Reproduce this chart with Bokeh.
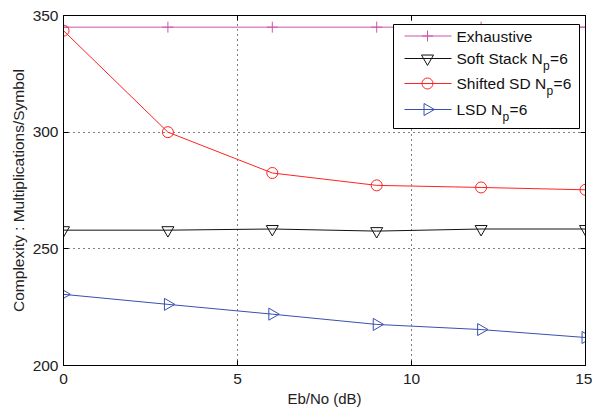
from bokeh.plotting import figure
from bokeh.models import LinearAxis, Range1d, FixedTicker
from bokeh.core.properties import value
from bokeh.embed import file_html
from bokeh.resources import INLINE
import math

snr = [0, 3, 6, 9, 12, 15]
exhaustive = [345, 345, 345, 345, 345, 345]
soft_stack = [258, 258, 258.5, 257.6, 258.5, 258.5]
shifted_sd = [343.5, 300, 282.5, 277.2, 276.3, 275.3]
lsd = [230.5, 226.2, 222, 217.6, 215.4, 212]

x_ticks = [0, 5, 10, 15]
y_ticks = [200, 250, 300, 350]

legend_main = ["Exhaustive", "Soft Stack N", "Shifted SD N", "LSD N"]
legend_sub = ["", "p", "p", "p"]
legend_tail = ["", "=6", "=6", "=6"]

FONT = "Liberation Sans"
W, H = 592, 409
BL, BR, BT, BB = 63, 7, 15, 44
X0, X1, Y0, Y1 = 0, 15, 200, 350

p = figure(width=W, height=H, output_backend="svg", toolbar_location=None,
           x_range=Range1d(X0, X1), y_range=Range1d(Y0, Y1),
           min_border_left=BL, min_border_right=BR, min_border_top=BT, min_border_bottom=BB,
           x_axis_label="Eb/No (dB)", y_axis_label="Complexity : Multiplications/Symbol")
p.background_fill_color = "white"
p.border_fill_color = "white"
p.outline_line_color = "black"
p.outline_line_width = 1

for ax in p.xaxis + p.yaxis:
    ax.major_tick_in = 5
    ax.major_tick_out = 0
    ax.minor_tick_line_color = None
    ax.axis_line_color = "black"
    ax.major_label_text_font = FONT
    ax.major_label_text_font_size = "15.5px"
    ax.major_label_text_color = "#222222"
    ax.axis_label_text_font = FONT
    ax.axis_label_text_font_style = "normal"
    ax.axis_label_text_color = "#222222"
p.xaxis.axis_label_text_font_size = "15px"
p.yaxis.axis_label_text_font_size = "15.5px"
p.xaxis.ticker = FixedTicker(ticks=x_ticks)
p.yaxis.ticker = FixedTicker(ticks=y_ticks)
p.xaxis.axis_label_standoff = 3
p.yaxis.axis_label_standoff = 3
p.xaxis.major_label_standoff = 8
p.yaxis.major_label_standoff = 5

for loc, tk in (("above", x_ticks), ("right", y_ticks)):
    ax = LinearAxis(ticker=FixedTicker(ticks=tk), major_tick_in=5, major_tick_out=0,
                    minor_tick_line_color=None, major_label_standoff=0,
                    major_label_overrides={t: "" for t in tk},
                    major_label_text_font_size="1px",
                    axis_line_color="black")
    p.add_layout(ax, loc)

p.xgrid.ticker = FixedTicker(ticks=x_ticks)
p.ygrid.ticker = FixedTicker(ticks=y_ticks)
for g in (p.xgrid[0], p.ygrid[0]):
    g.grid_line_color = "black"
    g.grid_line_dash = "1 4"
    g.grid_line_width = 1

c_ex = "#cc55aa"
c_ss = "#111111"
c_sh = "#ff2222"
c_lsd = "#3a4fb0"

colors = [c_ex, c_ss, c_sh, c_lsd]
markers = ["cross", "inverted_triangle", "circle", "triangle"]
angles = [0, 0, 0, -math.pi / 2]
sizes = [11, 12, 11, 12]

for ys, c, m, a, s in zip([exhaustive, soft_stack, shifted_sd, lsd], colors, markers, angles, sizes):
    p.line(snr, ys, line_color=c, line_width=1)
    p.scatter(snr, ys, marker=m, angle=a, size=s, line_color=c, fill_color=None, line_width=1)

# ---- legend (drawn by hand so that subscripts and a right-pointing triangle show) ----
fw = W - BL - BR
fh = H - BT - BB


def dx(px):
    return X0 + (px - BL) / fw * (X1 - X0)


def dy(py):
    return Y1 - (py - BT) / fh * (Y1 - Y0)


box_l, box_r, box_t, box_b = 393, 579, 24, 128
rows = [35.5, 58, 83, 109]
line_l, line_r, mark_x, text_x = 404, 451, 427, 456
p.quad(left=[dx(box_l)], right=[dx(box_r)], top=[dy(box_t)], bottom=[dy(box_b)],
       fill_color="white", line_color="black", line_width=1)
main_w = [0, 86.1, 89.6, 45.6]
for i in range(4):
    yy = dy(rows[i])
    p.segment(x0=[dx(line_l)], y0=[yy], x1=[dx(line_r)], y1=[yy], line_color=colors[i], line_width=1)
    p.scatter([dx(mark_x)], [yy], marker=markers[i], angle=angles[i], size=sizes[i],
              line_color=colors[i], fill_color=None)
    p.text([dx(text_x)], [yy], text=[legend_main[i]], text_font=value(FONT), text_font_size="15.5px",
           text_baseline="middle", text_color="#111111")
    if legend_sub[i]:
        p.text([dx(text_x)], [yy], text=[legend_sub[i]], text_font=value(FONT), text_font_size="12px",
               text_baseline="middle", x_offset=main_w[i] + 0.5, y_offset=7, text_color="#111111")
        p.text([dx(text_x)], [yy], text=[legend_tail[i]], text_font=value(FONT), text_font_size="15.5px",
               text_baseline="middle", x_offset=main_w[i] + 7.5, text_color="#111111")

open("out.html", "w").write(file_html(p, INLINE))
